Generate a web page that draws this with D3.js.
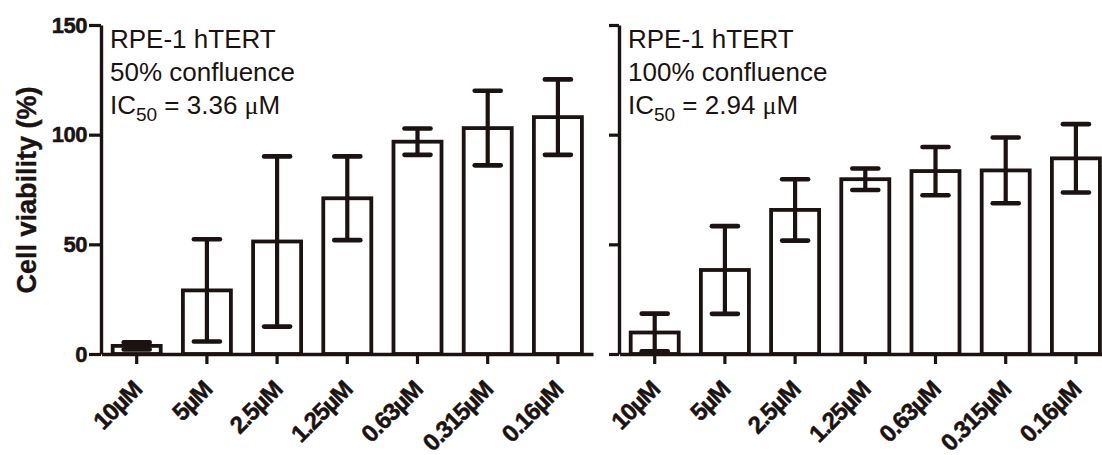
<!DOCTYPE html>
<html>
<head>
<meta charset="utf-8">
<script src="https://cdn.jsdelivr.net/npm/d3@7"></script>
<style>
  body { margin: 0; background: #fff; }
  svg { display: block; }
  text { font-family: "Liberation Sans", Arial, Helvetica, sans-serif; fill: #1a1311; }
</style>
</head>
<body>
<svg id="chart" width="1102" height="455"></svg>
<script>
// Doses (x categories), shared by both panels
const doses = ["10µM", "5µM", "2.5µM", "1.25µM", "0.63µM", "0.315µM", "0.16µM"];

// 50% confluence: mean viability (%) and error
const mean50 = [3.7, 29, 51.3, 71, 96.8, 103, 108];
const err50  = [1.6, 23.3, 38.8, 19.1, 6, 17, 17.2];

// 100% confluence: mean viability (%) and error
const mean100 = [9.8, 38.3, 65.7, 79.7, 83.4, 83.7, 89.2];
const err100  = [8.6, 20, 14, 4.9, 11, 15, 15.6];

// y-axis ticks
const yTicks = [0, 50, 100, 150];

// panel annotations
const cellLine = "RPE-1 hTERT";
const confluence = ["50% confluence", "100% confluence"];
const ic50 = ["3.36", "2.94"];

const ink = "#1a1311";
const svg = d3.select("#chart");
svg.append("rect").attr("width", 1102).attr("height", 455).attr("fill", "#fff");

const y = d3.scaleLinear().domain([0, 150]).range([354, 25]);

// y-axis title
svg.append("text")
  .attr("transform", "translate(36,190) rotate(-90)")
  .attr("text-anchor", "middle")
  .style("font-size", "27px")
  .style("font-weight", "bold")
  .attr("stroke", ink).attr("stroke-width", 0.4)
  .text("Cell viability (%)");

function panel(axisX, means, errs, idx, showYLabels) {
  const x = d3.scaleBand()
    .domain(doses)
    .range([axisX + 0.6, axisX + 0.6 + 491.4])
    .paddingInner(0.316)
    .paddingOuter(0.158);
  const bw = x.bandwidth();
  const g = svg.append("g");

  const rows = doses.map((d, i) => ({ dose: d, m: means[i], e: errs[i] }));

  // bars
  g.selectAll("rect.bar").data(rows).join("rect")
    .attr("class", "bar")
    .attr("x", d => x(d.dose))
    .attr("y", d => y(d.m))
    .attr("width", bw)
    .attr("height", d => y(0) - y(d.m))
    .attr("fill", "#fff")
    .attr("stroke", ink)
    .attr("stroke-width", 3.8);

  // error bars
  const capW = 13;
  const eb = g.selectAll("g.err").data(rows).join("g").attr("class", "err");
  eb.append("line")
    .attr("x1", d => x(d.dose) + bw / 2).attr("x2", d => x(d.dose) + bw / 2)
    .attr("y1", d => y(d.m - d.e)).attr("y2", d => y(d.m + d.e))
    .attr("stroke", ink).attr("stroke-width", 4.2);
  [-1, 1].forEach(s => {
    eb.append("line")
      .attr("x1", d => x(d.dose) + bw / 2 - capW).attr("x2", d => x(d.dose) + bw / 2 + capW)
      .attr("y1", d => y(d.m + s * d.e)).attr("y2", d => y(d.m + s * d.e))
      .attr("stroke", ink).attr("stroke-width", 4.6).attr("stroke-linecap", "round");
  });

  // x axis
  const xa = svg.append("g")
    .attr("transform", `translate(0,${y(0)})`)
    .call(d3.axisBottom(x).tickSize(10).tickSizeOuter(0));
  xa.select(".domain").attr("stroke", ink).attr("stroke-width", 3.4);
  xa.selectAll(".tick line").attr("stroke", ink).attr("stroke-width", 3.2);
  xa.selectAll(".tick text")
    .attr("y", 0).attr("dy", 0)
    .attr("transform", "translate(6.5,37) rotate(-45)")
    .style("text-anchor", "end")
    .style("font-size", "24px")
    .style("font-weight", "bold")
    .style("letter-spacing", "-1px")
    .attr("stroke", ink).attr("stroke-width", 0.5)
    .attr("fill", ink);

  // y axis
  const ya = svg.append("g")
    .attr("transform", `translate(${axisX},0)`)
    .call(d3.axisLeft(y).tickValues(yTicks).tickSize(showYLabels ? 12 : 10).tickSizeOuter(0)
      .tickPadding(2).tickFormat(showYLabels ? d3.format("d") : () => ""));
  ya.select(".domain").attr("stroke", ink).attr("stroke-width", 3.4);
  ya.selectAll(".tick line").attr("stroke", ink).attr("stroke-width", 3.2);
  ya.selectAll(".tick text")
    .style("font-size", "22px")
    .style("font-weight", "bold")
    .style("letter-spacing", "-0.5px")
    .attr("stroke", ink).attr("stroke-width", 0.5)
    .attr("fill", ink);

  // annotation
  const tx = axisX + 9;
  const t = svg.append("g").style("font-size", "26px");
  t.append("text").attr("x", tx).attr("y", 48).text(cellLine);
  t.append("text").attr("x", tx).attr("y", 81).text(confluence[idx]);
  const ic = t.append("text").attr("x", tx).attr("y", 114);
  ic.append("tspan").text("IC");
  ic.append("tspan").attr("dy", 7).style("font-size", "19px").text("50");
  ic.append("tspan").attr("dy", -7).text(` = ${ic50[idx]} `);
  ic.append("tspan").style("font-family", "'Liberation Serif', 'DejaVu Serif', serif").text("μ");
  ic.append("tspan").text("M");
}

panel(101, mean50, err50, 0, true);
panel(619, mean100, err100, 1, false);
</script>
</body>
</html>
